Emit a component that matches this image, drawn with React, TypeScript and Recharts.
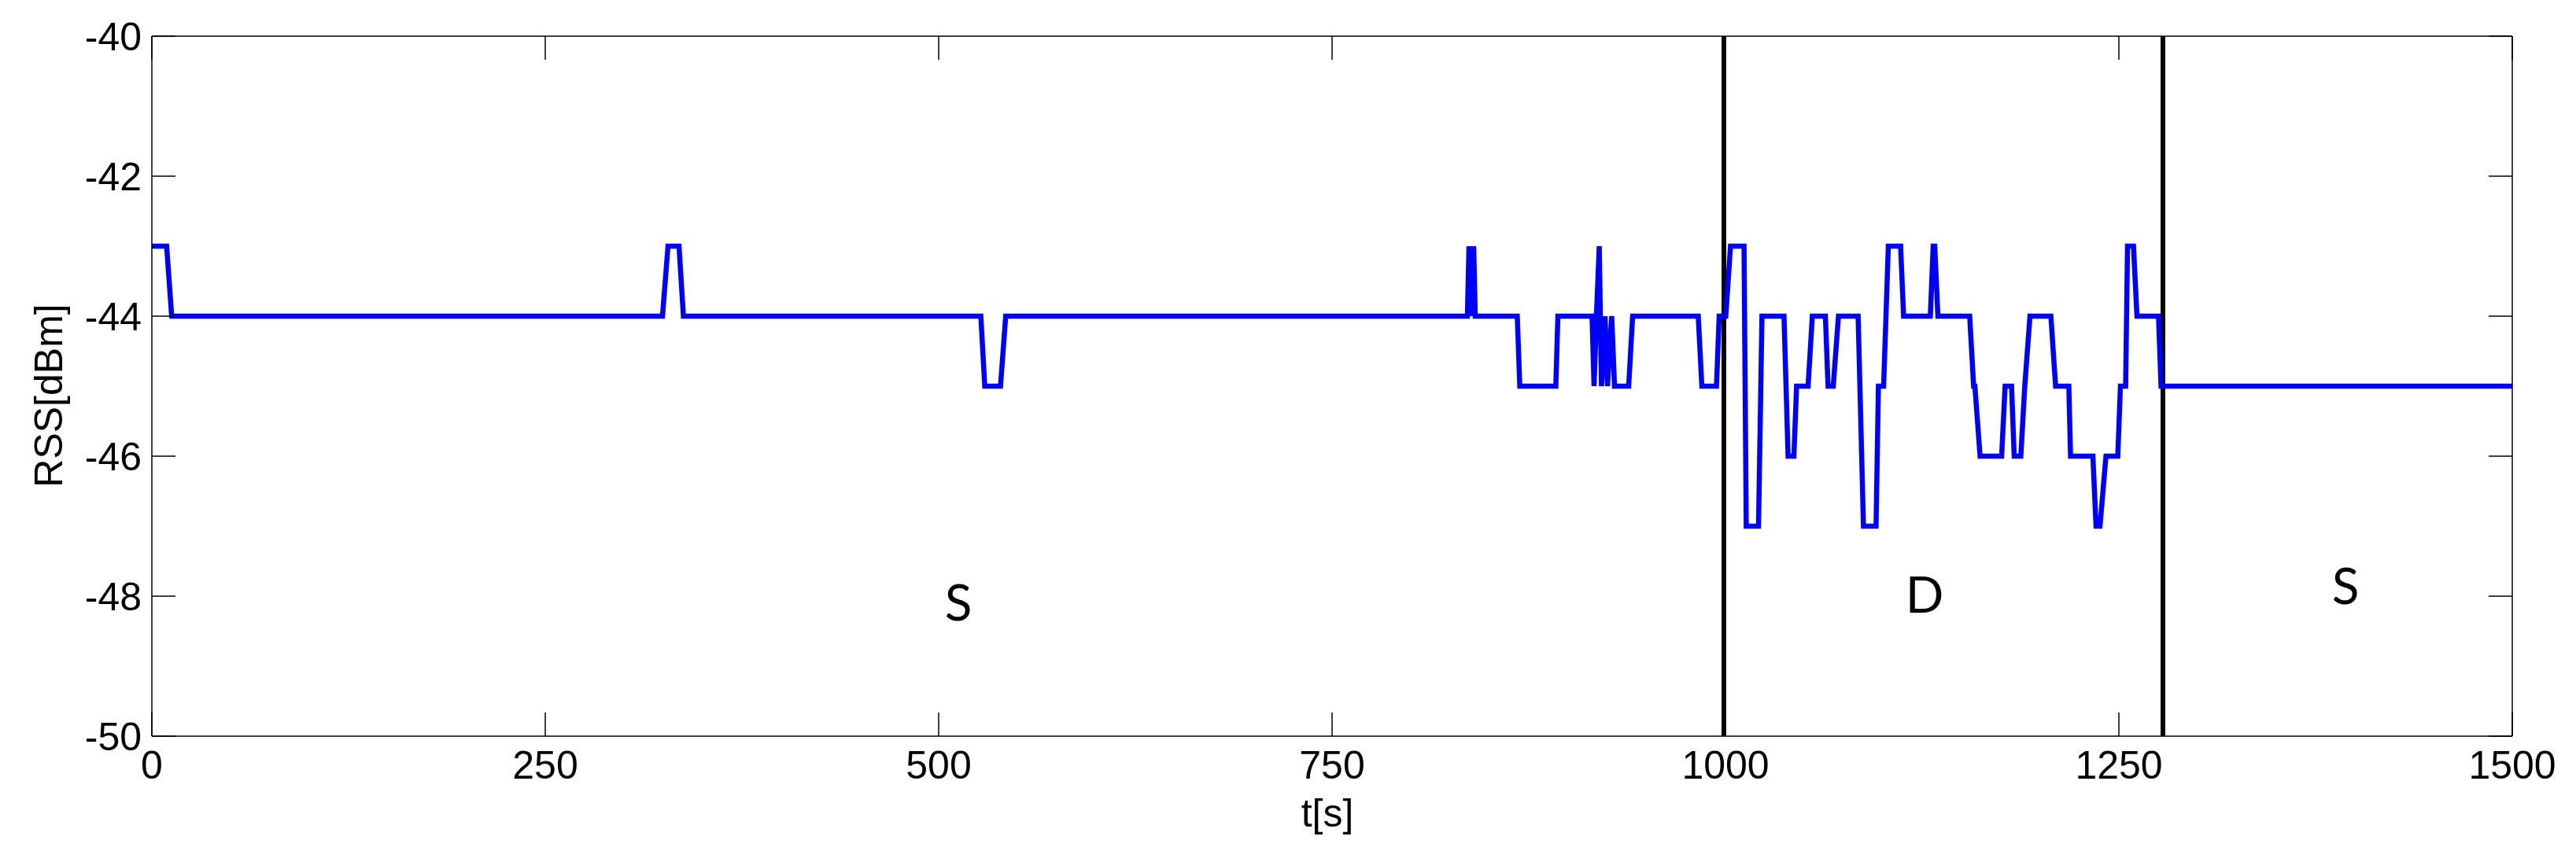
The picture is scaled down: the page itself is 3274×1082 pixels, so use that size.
import React from "react";
import {
  LineChart,
  Line,
  XAxis,
  YAxis,
  ReferenceLine,
  ReferenceDot,
} from "recharts";

// RSS trace (breakpoints of the piecewise-linear trace)
const times = [
  0, 9.4, 12.6, 324.5, 328, 335, 337.8, 526.8, 529.3, 539.3, 542.6,
  836, 837, 838.5, 840, 841, 867.7, 869.3, 892.2, 893.5, 915.2,
  916.5, 918, 919.8, 921.2, 923.5, 925, 927.7, 929.5, 938.5, 941,
  982.7, 985, 994.3, 996, 1000.2, 1003.2, 1011.8, 1013.2, 1021, 1023.2,
  1037.2, 1039.8, 1043.5, 1045.2, 1052.5, 1055.2, 1063.5, 1065.2, 1068.5,
  1071.8, 1084.3, 1087.7, 1095.7, 1097.2, 1100.5, 1103.5, 1111.3, 1113.2,
  1130.2, 1132, 1133, 1135, 1155.2, 1157.7, 1158.5, 1161.8, 1175.5,
  1177.7, 1181.8, 1183.5, 1187.7, 1190.2, 1193.5, 1206.8, 1209.8, 1218.2,
  1219.3, 1233.5, 1235.5, 1238, 1241.8, 1249.3, 1251, 1254.3, 1255.5,
  1259.3, 1261.5, 1275.2, 1276.8, 1500,
];
const rss = [
  -43, -43, -44, -44, -43, -43, -44, -44, -45, -45, -44,
  -44, -43, -44, -43, -44, -44, -45, -45, -44, -44,
  -45, -44, -43, -45, -44, -45, -44, -45, -45, -44,
  -44, -45, -45, -44, -44, -43, -43, -47, -47, -44,
  -44, -46, -46, -45, -45, -44, -44, -45, -45,
  -44, -44, -47, -47, -45, -45, -43, -43, -44,
  -44, -43, -43, -44, -44, -45, -45, -46, -46,
  -45, -45, -46, -46, -45, -44, -44, -45, -45,
  -46, -46, -47, -47, -46, -46, -45, -45, -43,
  -43, -44, -44, -45, -45,
];

const xTicks = [0, 250, 500, 750, 1000, 1250, 1500];
const yTicks = [-50, -48, -46, -44, -42, -40];

// state boundaries and region labels
const boundaries = [999, 1278];
const regionNames = ["S", "D", "S"];
const regionT = [512.5, 1126.5, 1394];
const regionRss = [-48.09, -47.98, -47.86];

const data = times.map((t, i) => ({ t, rss: rss[i] }));

const tickFont = {
  fontSize: 50,
  fontFamily: "'Liberation Sans', Arial, sans-serif",
  fill: "#000",
};
const axisStroke = { stroke: "#000", strokeWidth: 1.5 };
const blank = () => "";

function XTitle(props: any) {
  const vb = props.viewBox;
  return (
    <text
      x={vb.x + vb.width / 2 - 6}
      y={vb.y + 114.5}
      textAnchor="middle"
      {...tickFont}
    >
      t[s]
    </text>
  );
}

function YTitle(props: any) {
  const vb = props.viewBox;
  const cx = vb.x + 62;
  const cy = vb.y + vb.height / 2 + 12;
  return (
    <text
      x={cx}
      y={cy}
      transform={`rotate(-90 ${cx} ${cy})`}
      textAnchor="middle"
      dominantBaseline="central"
      {...tickFont}
    >
      RSS[dBm]
    </text>
  );
}

export default function App() {
  return (
    <div
      style={{
        position: "absolute",
        left: 0,
        top: 0,
        width: 3274,
        height: 1082,
        background: "#fff",
      }}
    >
      <LineChart
        width={3274}
        height={1082}
        data={data}
        margin={{ top: 0, right: 0, bottom: 0, left: 0 }}
      >
        <XAxis
          dataKey="t"
          type="number"
          domain={[0, 1500]}
          ticks={xTicks}
          interval={0}
          height={146}
          tickSize={-30}
          tickMargin={48.5}
          tick={tickFont}
          tickLine={axisStroke}
          axisLine={axisStroke}
          allowDataOverflow
          label={<XTitle />}
        />
        <XAxis
          xAxisId="top"
          dataKey="t"
          orientation="top"
          type="number"
          domain={[0, 1500]}
          ticks={xTicks}
          interval={0}
          height={46}
          tickSize={-30}
          tick={tickFont}
          tickFormatter={blank}
          tickLine={axisStroke}
          axisLine={axisStroke}
          allowDataOverflow
        />
        <YAxis
          type="number"
          domain={[-50, -40]}
          ticks={yTicks}
          interval={0}
          width={193}
          tickSize={-30}
          tickMargin={43}
          tick={tickFont}
          tickLine={axisStroke}
          axisLine={axisStroke}
          allowDataOverflow
          label={<YTitle />}
        />
        <YAxis
          yAxisId="right"
          orientation="right"
          type="number"
          domain={[-50, -40]}
          ticks={yTicks}
          interval={0}
          width={81}
          tickSize={-30}
          tick={tickFont}
          tickFormatter={blank}
          tickLine={axisStroke}
          axisLine={axisStroke}
          allowDataOverflow
        />
        {boundaries.map((b) => (
          <ReferenceLine key={b} x={b} stroke="#000" strokeWidth={6} />
        ))}
        {/* invisible twin series so the top/right frame axes get their ticks */}
        <Line
          xAxisId="top"
          yAxisId="right"
          type="linear"
          dataKey="rss"
          stroke="none"
          dot={false}
          legendType="none"
          isAnimationActive={false}
        />
        <Line
          type="linear"
          dataKey="rss"
          stroke="#0000ff"
          strokeWidth={6.5}
          dot={false}
          isAnimationActive={false}
        />
        {regionNames.map((name, i) => (
          <ReferenceDot
            key={i}
            x={regionT[i]}
            y={regionRss[i]}
            r={1}
            fill="none"
            stroke="none"
            label={{
              value: name,
              position: "center",
              fontSize: 64,
              fontFamily: "Lato, 'Open Sans', sans-serif",
              fill: "#000",
            }}
          />
        ))}
      </LineChart>
    </div>
  );
}
